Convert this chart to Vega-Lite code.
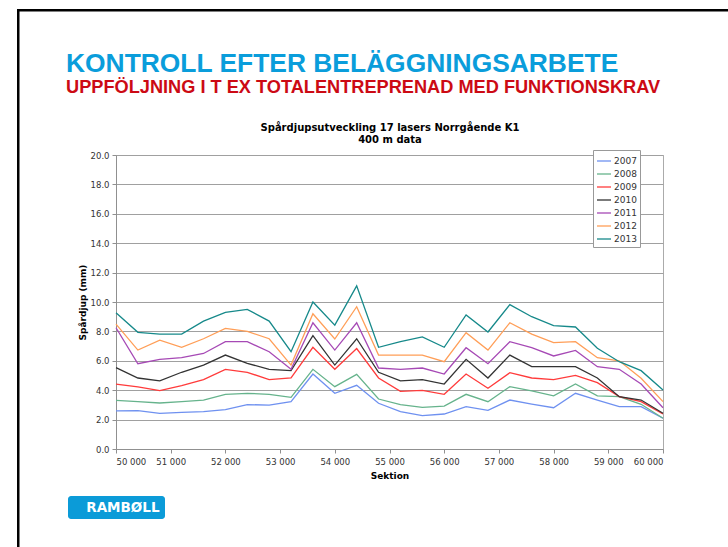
{
  "$schema": "https://vega.github.io/schema/vega-lite/v6.json",
  "background": "white",
  "width": 547,
  "height": 294,
  "padding": {"left": 17, "top": 9, "right": 0, "bottom": 0},
  "config": {"font": "DejaVu Sans", "view": {"stroke": "#ababab", "fill": "white"}},
  "title": {
    "text": "KONTROLL EFTER BELÄGGNINGSARBETE",
    "subtitle": "UPPFÖLJNING I T EX TOTALENTREPRENAD MED FUNKTIONSKRAV",
    "anchor": "start",
    "frame": "group",
    "dx": -50,
    "offset": -87,
    "font": "Liberation Sans",
    "fontSize": 26.4,
    "fontWeight": "bold",
    "color": "#0A9DDB",
    "subtitleFont": "Liberation Sans",
    "subtitleFontSize": 18.2,
    "subtitleFontWeight": "bold",
    "subtitleColor": "#CC0A14",
    "subtitlePadding": 1.5
  },
  "datasets": {
    "rut": [
      {"Sektion": 50000, "2007": 2.59, "2008": 3.31, "2009": 4.42, "2010": 5.53, "2011": 8.25, "2012": 8.5, "2013": 9.27},
      {"Sektion": 50400, "2007": 2.61, "2008": 3.22, "2009": 4.22, "2010": 4.83, "2011": 5.8, "2012": 6.73, "2013": 7.94},
      {"Sektion": 50800, "2007": 2.43, "2008": 3.13, "2009": 3.97, "2010": 4.63, "2011": 6.1, "2012": 7.41, "2013": 7.82},
      {"Sektion": 51200, "2007": 2.49, "2008": 3.22, "2009": 4.31, "2010": 5.22, "2011": 6.21, "2012": 6.92, "2013": 7.82},
      {"Sektion": 51600, "2007": 2.54, "2008": 3.33, "2009": 4.72, "2010": 5.71, "2011": 6.5, "2012": 7.5, "2013": 8.7},
      {"Sektion": 52000, "2007": 2.68, "2008": 3.72, "2009": 5.42, "2010": 6.39, "2011": 7.3, "2012": 8.2, "2013": 9.3},
      {"Sektion": 52400, "2007": 3.02, "2008": 3.79, "2009": 5.22, "2010": 5.83, "2011": 7.3, "2012": 8.0, "2013": 9.5},
      {"Sektion": 52800, "2007": 2.99, "2008": 3.72, "2009": 4.72, "2010": 5.42, "2011": 6.62, "2012": 7.5, "2013": 8.7},
      {"Sektion": 53200, "2007": 3.22, "2008": 3.51, "2009": 4.83, "2010": 5.33, "2011": 5.42, "2012": 5.71, "2013": 6.62},
      {"Sektion": 53600, "2007": 5.1, "2008": 5.42, "2009": 6.92, "2010": 7.71, "2011": 8.59, "2012": 9.2, "2013": 10.0},
      {"Sektion": 54000, "2007": 3.79, "2008": 4.24, "2009": 5.42, "2010": 5.71, "2011": 6.73, "2012": 7.48, "2013": 8.43},
      {"Sektion": 54400, "2007": 4.33, "2008": 5.08, "2009": 6.83, "2010": 7.5, "2011": 8.59, "2012": 9.68, "2013": 11.1},
      {"Sektion": 54800, "2007": 3.11, "2008": 3.4, "2009": 4.83, "2010": 5.22, "2011": 5.51, "2012": 6.39, "2013": 6.92},
      {"Sektion": 55200, "2007": 2.54, "2008": 3.02, "2009": 3.92, "2010": 4.63, "2011": 5.42, "2012": 6.39, "2013": 7.3},
      {"Sektion": 55600, "2007": 2.27, "2008": 2.83, "2009": 3.99, "2010": 4.72, "2011": 5.51, "2012": 6.39, "2013": 7.62},
      {"Sektion": 56000, "2007": 2.38, "2008": 2.92, "2009": 3.72, "2010": 4.42, "2011": 5.1, "2012": 5.94, "2013": 6.92},
      {"Sektion": 56400, "2007": 2.88, "2008": 3.72, "2009": 5.1, "2010": 6.1, "2011": 6.89, "2012": 7.91, "2013": 9.12},
      {"Sektion": 56800, "2007": 2.63, "2008": 3.22, "2009": 4.13, "2010": 4.83, "2011": 5.8, "2012": 6.73, "2013": 7.96},
      {"Sektion": 57200, "2007": 3.33, "2008": 4.24, "2009": 5.19, "2010": 6.39, "2011": 7.3, "2012": 8.59, "2013": 9.82},
      {"Sektion": 57600, "2007": 3.06, "2008": 3.95, "2009": 4.83, "2010": 5.6, "2011": 6.89, "2012": 7.82, "2013": 9.0},
      {"Sektion": 58000, "2007": 2.81, "2008": 3.61, "2009": 4.72, "2010": 5.6, "2011": 6.33, "2012": 7.23, "2013": 8.39},
      {"Sektion": 58400, "2007": 3.79, "2008": 4.42, "2009": 5.01, "2010": 5.6, "2011": 6.71, "2012": 7.3, "2013": 8.3},
      {"Sektion": 58800, "2007": 3.33, "2008": 3.61, "2009": 4.51, "2010": 4.83, "2011": 5.6, "2012": 6.21, "2013": 6.85},
      {"Sektion": 59200, "2007": 2.88, "2008": 3.56, "2009": 3.56, "2010": 3.56, "2011": 5.42, "2012": 6.0, "2013": 5.94},
      {"Sektion": 59600, "2007": 2.88, "2008": 3.04, "2009": 3.22, "2010": 3.33, "2011": 4.42, "2012": 4.81, "2013": 5.33},
      {"Sektion": 60000, "2007": 2.09, "2008": 2.09, "2009": 2.38, "2010": 2.43, "2011": 2.81, "2012": 3.22, "2013": 4.01}
    ]
  },
  "data": {"name": "rut"},
  "transform": [
    {"fold": ["2007", "2008", "2009", "2010", "2011", "2012", "2013"], "as": ["År", "Spårdjup"]}
  ],
  "resolve": {"axis": {"x": "independent"}},
  "layer": [
    {
      "mark": {"type": "line", "strokeWidth": 1.3},
      "encoding": {
        "x": {
          "field": "Sektion",
          "type": "quantitative",
          "scale": {"domain": [50000, 60000], "nice": false, "zero": false},
          "axis": {
            "orient": "bottom",
            "values": [50000, 51000, 52000, 53000, 54000, 55000, 56000, 57000, 58000, 59000, 60000],
            "labelExpr": "replace(format(datum.value, ','), ',', ' ')",
            "grid": false,
            "tickSize": 4,
            "labelPadding": 4,
            "labelFontSize": 8.5,
            "labelColor": "#333333",
            "domainColor": "#909090",
            "tickColor": "#909090",
            "title": "Sektion",
            "titleFontSize": 9,
            "titleFontWeight": "bold",
            "titleColor": "#000000",
            "titlePadding": 6
          }
        },
        "y": {
          "field": "Spårdjup",
          "type": "quantitative",
          "scale": {"domain": [0, 20], "nice": false},
          "axis": {
            "values": [0, 2, 4, 6, 8, 10, 12, 14, 16, 18, 20],
            "format": ".1f",
            "grid": true,
            "gridColor": "#a0a0a0",
            "tickSize": 4,
            "labelPadding": 3,
            "labelFontSize": 8.5,
            "labelColor": "#333333",
            "domainColor": "#909090",
            "tickColor": "#909090",
            "title": "Spårdjup (mm)",
            "titleFontSize": 9,
            "titleFontWeight": "bold",
            "titleColor": "#000000",
            "titlePadding": 3
          }
        },
        "color": {
          "field": "År",
          "type": "nominal",
          "scale": {
            "domain": ["2007", "2008", "2009", "2010", "2011", "2012", "2013"],
            "range": ["#6F91F0", "#66B38C", "#FF3B3B", "#333333", "#A649B5", "#FF9E57", "#16898A"]
          },
          "legend": {
            "orient": "none",
            "legendX": 477,
            "legendY": -5,
            "title": null,
            "symbolType": "stroke",
            "symbolSize": 196,
            "symbolStrokeWidth": 1.6,
            "labelFont": "DejaVu Sans",
            "labelFontSize": 9,
            "labelColor": "#333333",
            "fillColor": "white",
            "strokeColor": "#999999",
            "padding": 3,
            "rowPadding": 0,
            "labelOffset": 2
          }
        },
        "strokeWidth": {
          "field": "År",
          "type": "ordinal",
          "scale": {
            "domain": ["2007", "2008", "2009", "2010", "2011", "2012", "2013"],
            "range": [1.3, 1.3, 1.3, 1.3, 1.3, 1.3, 2.5]
          },
          "legend": null
        }
      }
    },
    {
      "mark": {"type": "point", "opacity": 0},
      "encoding": {
        "x": {
          "field": "Sektion",
          "type": "quantitative",
          "scale": {"domain": [50000, 60000], "nice": false, "zero": false},
          "axis": {
            "orient": "top",
            "labels": false,
            "ticks": false,
            "domain": false,
            "grid": false,
            "title": ["Spårdjupsutveckling 17 lasers Norrgående K1", "400 m data"],
            "titleFont": "DejaVu Sans",
            "titleFontSize": 10,
            "titleFontWeight": "bold",
            "titleColor": "#000000",
            "titleLineHeight": 12,
            "titlePadding": 11
          }
        },
        "fill": {
          "field": "Spårdjup",
          "type": "quantitative",
          "scale": {"range": ["#000000", "#000000"]},
          "legend": {
            "type": "gradient",
            "orient": "none",
            "legendX": -99,
            "legendY": -146,
            "direction": "horizontal",
            "gradientLength": 711,
            "gradientThickness": 2.5,
            "gradientStrokeWidth": 0,
            "title": null,
            "labelExpr": "''",
            "padding": 0
          }
        },
        "stroke": {
          "field": "Sektion",
          "type": "quantitative",
          "scale": {"range": ["#000000", "#000000"]},
          "legend": {
            "type": "gradient",
            "orient": "none",
            "legendX": -99,
            "legendY": -146,
            "direction": "vertical",
            "gradientLength": 538,
            "gradientThickness": 2.5,
            "gradientStrokeWidth": 0,
            "title": null,
            "labelExpr": "''",
            "padding": 0
          }
        }
      }
    },
    {
      "data": {"values": [{"logo": "RAMBØLL"}]},
      "mark": {"type": "point", "opacity": 0},
      "encoding": {
        "shape": {
          "field": "logo",
          "type": "nominal",
          "legend": {
            "orient": "none",
            "legendX": -48,
            "legendY": 341,
            "title": null,
            "fillColor": "#0B9BD8",
            "cornerRadius": 3,
            "padding": 4.75,
            "symbolOpacity": 0,
            "symbolSize": 1,
            "labelOffset": 0,
            "labelFont": "DejaVu Sans",
            "labelFontWeight": "bold",
            "labelFontSize": 13.5,
            "labelColor": "white"
          }
        }
      }
    }
  ]
}
